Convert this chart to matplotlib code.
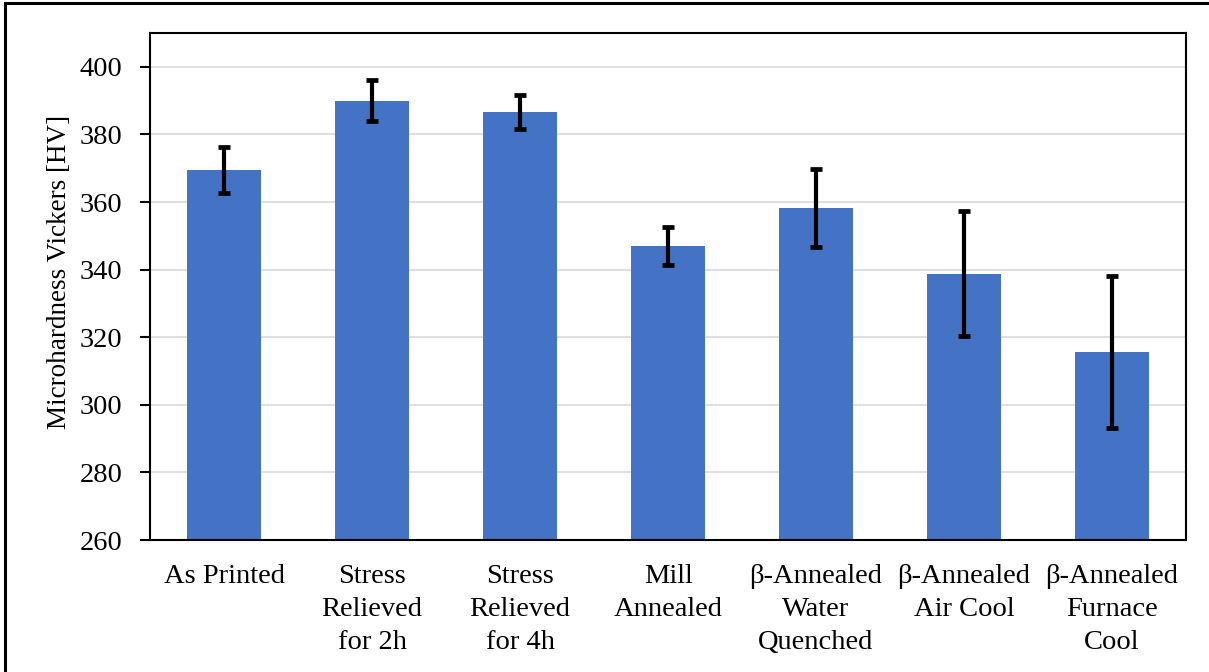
import matplotlib.pyplot as plt
from matplotlib.lines import Line2D
import numpy as np

plt.rcParams['font.family'] = ['Liberation Serif', 'DejaVu Serif']

# microhardness per heat treatment, mean and std dev
treatments = ['As Printed', 'Stress\nRelieved\nfor 2h', 'Stress\nRelieved\nfor 4h',
              'Mill\nAnnealed', '\u03b2-Annealed\nWater\nQuenched',
              '\u03b2-Annealed\nAir Cool', '\u03b2-Annealed\nFurnace\nCool']
hv_mean = [369.5, 390.0, 386.7, 347.1, 358.2, 338.8, 315.6]
hv_std = [6.9, 6.0, 5.1, 5.6, 11.5, 18.5, 22.4]

fig = plt.figure(figsize=(12.09, 6.72), dpi=100)
ax = fig.add_axes([0.1241, 0.1964, 0.8569, 0.7545])

x = np.arange(len(treatments))
ax.bar(x, hv_mean, width=0.5, color='#4472C4', zorder=2)
ax.errorbar(x, hv_mean, yerr=hv_std, fmt='none', ecolor='black',
            elinewidth=3.0, capsize=4.5, capthick=3.4, zorder=3)

ax.set_xlim(-0.5, len(treatments) - 0.5)
ax.set_ylim(260, 410)
ax.set_yticks(np.arange(260, 401, 20))
ax.yaxis.grid(True, color='#d9d9d9', linewidth=1.2, zorder=0)
ax.set_axisbelow(True)

ax.set_xticks(x)
ax.set_xticklabels(treatments, fontsize=20.5, linespacing=1.42)
ax.tick_params(axis='x', length=0, pad=17)
ax.tick_params(axis='y', labelsize=20.5, length=7, width=1.5, pad=13)

for s in ax.spines.values():
    s.set_linewidth(1.5)

ax.set_ylabel('Microhardness Vickers [HV]', fontsize=19.5)
ax.yaxis.set_label_coords(-0.0875, 0.5286)
ax.yaxis.label.set_va('center')

# chart frame, left and top edges
fig.add_artist(Line2D([0.0045, 0.0045], [0, 0.995], color='black', linewidth=2.2))
fig.add_artist(Line2D([0.0045, 1.0], [0.995, 0.995], color='black', linewidth=2.2))

fig.savefig('out.png', dpi=100)
